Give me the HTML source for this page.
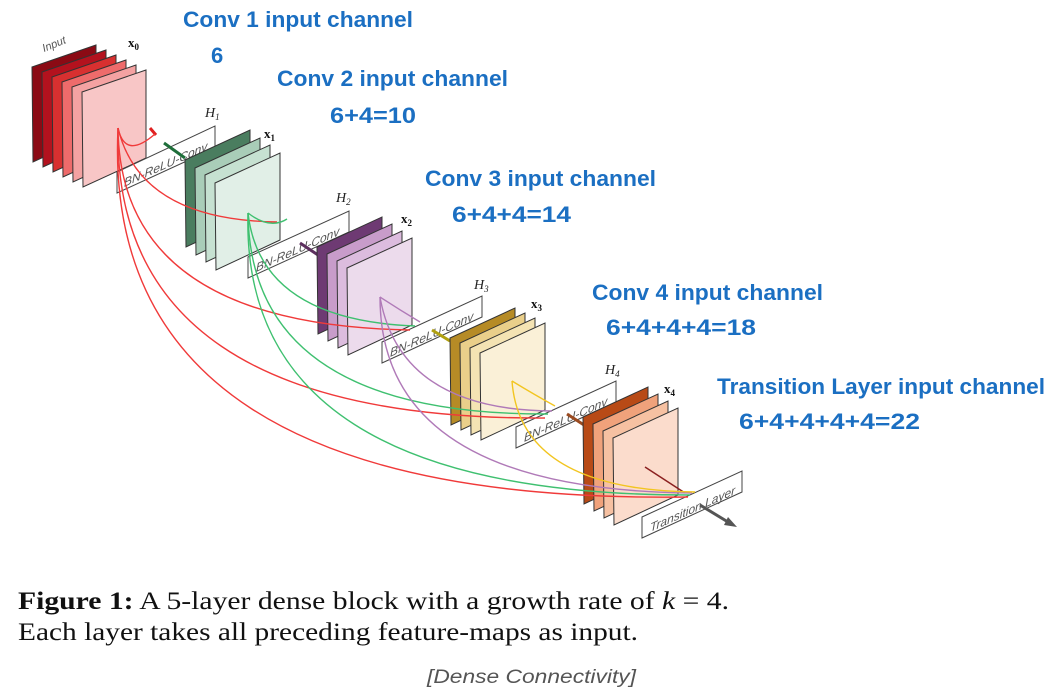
<!DOCTYPE html>
<html><head><meta charset="utf-8"><style>
html,body{margin:0;padding:0;background:#fff;}
svg{display:block;}
.b{font-family:"Liberation Sans",sans-serif;font-weight:bold;font-size:22px;fill:#1b6fc2;}
.n{letter-spacing:2.5px;}
.box{fill:#fff;stroke:#444;stroke-width:1;}
.bt{font-family:"Liberation Sans",sans-serif;font-style:italic;font-size:12px;fill:#555;}
.h{font-family:"Liberation Serif",serif;font-style:italic;font-size:14px;fill:#222;}
.x{font-family:"Liberation Serif",serif;font-weight:bold;font-size:13px;fill:#111;}
.pl{stroke:#333;stroke-width:1;}
.c{fill:none;stroke-width:1.4;}
</style></head><body>
<svg width="1054" height="689" viewBox="0 0 1054 689" xmlns="http://www.w3.org/2000/svg">
<defs>
<polygon id="p0" points="0,0 64,-22 64,66 1,95"/>
<polygon id="p" points="0,0 65,-30 65,57 1,87"/>
</defs>
<text x="44" y="52" class="bt" transform="rotate(-22 44 52)" style="font-size:11px">Input</text>
<text x="128" y="47" class="x">x<tspan font-size="9" dy="3">0</tspan></text>
<use href="#p0" x="32" y="67" class="pl" fill="#8b0a14"/>
<use href="#p0" x="42" y="72" class="pl" fill="#b3121e"/>
<use href="#p0" x="52" y="77" class="pl" fill="#d83030"/>
<use href="#p0" x="62" y="82" class="pl" fill="#ee6b6b"/>
<use href="#p0" x="72" y="87" class="pl" fill="#f4a2a2"/>
<use href="#p0" x="82" y="92" class="pl" fill="#f8c6c6"/>
<polygon class="box" points="117,193 215,148 215,126 117,172"/>
<text class="bt" transform="translate(124,187) skewY(-24)">BN-ReLU-Conv</text>
<text x="205" y="117" class="h">H<tspan font-size="9" dy="3">1</tspan></text>
<line x1="150" y1="128" x2="156" y2="135" stroke="#e02020" stroke-width="3"/>
<line x1="164" y1="143" x2="185" y2="158" stroke="#1e6e3a" stroke-width="3"/>
<text x="264" y="138" class="x">x<tspan font-size="9" dy="3">1</tspan></text>
<use href="#p" x="185" y="160" class="pl" fill="#4a7d5f"/>
<use href="#p" x="195" y="168" class="pl" fill="#a9cdb8"/>
<use href="#p" x="205" y="175" class="pl" fill="#c6e1d1"/>
<use href="#p" x="215" y="183" class="pl" fill="#e1efe7"/>
<polygon class="box" points="248,278 349,232 349,211 248,257"/>
<text class="bt" transform="translate(256,272) skewY(-24)">BN-ReLU-Conv</text>
<text x="336" y="202" class="h">H<tspan font-size="9" dy="3">2</tspan></text>
<line x1="300" y1="243" x2="318" y2="255" stroke="#5c2f5e" stroke-width="3"/>
<text x="401" y="223" class="x">x<tspan font-size="9" dy="3">2</tspan></text>
<use href="#p" x="317" y="247" class="pl" fill="#6e3a73"/>
<use href="#p" x="327" y="254" class="pl" fill="#c89cca"/>
<use href="#p" x="337" y="261" class="pl" fill="#dcbcde"/>
<use href="#p" x="347" y="268" class="pl" fill="#ecdbec"/>
<polygon class="box" points="382,363 482,317 482,296 382,342"/>
<text class="bt" transform="translate(390,357) skewY(-24)">BN-ReLU-Conv</text>
<text x="474" y="289" class="h">H<tspan font-size="9" dy="3">3</tspan></text>
<line x1="432" y1="330" x2="450" y2="341" stroke="#b0a010" stroke-width="3"/>
<text x="531" y="308" class="x">x<tspan font-size="9" dy="3">3</tspan></text>
<use href="#p" x="450" y="338" class="pl" fill="#b68b26"/>
<use href="#p" x="460" y="343" class="pl" fill="#eacf8a"/>
<use href="#p" x="470" y="348" class="pl" fill="#f4e3b3"/>
<use href="#p" x="480" y="353" class="pl" fill="#faf0d7"/>
<polygon class="box" points="516,448 616,402 616,381 516,427"/>
<text class="bt" transform="translate(524,442) skewY(-24)">BN-ReLU-Conv</text>
<text x="605" y="374" class="h">H<tspan font-size="9" dy="3">4</tspan></text>
<line x1="567" y1="414" x2="584" y2="425" stroke="#9a4a20" stroke-width="3"/>
<text x="664" y="393" class="x">x<tspan font-size="9" dy="3">4</tspan></text>
<use href="#p" x="583" y="417" class="pl" fill="#b84a16"/>
<use href="#p" x="593" y="424" class="pl" fill="#f0a27b"/>
<use href="#p" x="603" y="431" class="pl" fill="#f6c1a2"/>
<use href="#p" x="613" y="438" class="pl" fill="#fbdccc"/>
<polygon class="box" points="642,538 742,492 742,471 642,517"/>
<text class="bt" transform="translate(650,532) skewY(-24)">Transition Layer</text>
<line x1="700" y1="505" x2="728" y2="522" stroke="#555" stroke-width="3"/>
<polygon points="728,517 737,527 724,525" fill="#555"/>
<line x1="645" y1="467" x2="685" y2="493" stroke="#8b2020" stroke-width="1.5"/>
<path class="c" stroke="#f03a3a" d="M118,128 Q125,160 155,134"/>
<path class="c" stroke="#f03a3a" d="M118,128 Q140,220 277,222"/>
<path class="c" stroke="#f03a3a" d="M118,128 Q120,325 410,330"/>
<path class="c" stroke="#f03a3a" d="M118,128 Q112,420 545,418"/>
<path class="c" stroke="#f03a3a" d="M118,128 Q100,505 688,497"/>
<path class="c" stroke="#3fc070" d="M248,213 Q270,230 287,219"/>
<path class="c" stroke="#3fc070" d="M248,213 Q260,320 415,326"/>
<path class="c" stroke="#3fc070" d="M248,213 Q250,415 548,414"/>
<path class="c" stroke="#3fc070" d="M248,213 Q240,495 690,495"/>
<path class="c" stroke="#b07ab8" d="M380,297 Q400,310 420,322"/>
<path class="c" stroke="#b07ab8" d="M380,297 Q400,410 552,411"/>
<path class="c" stroke="#b07ab8" d="M380,297 Q380,490 692,493"/>
<path class="c" stroke="#f2c520" d="M512,381 Q535,395 555,406"/>
<path class="c" stroke="#f2c520" d="M512,381 Q520,490 695,492"/>
<text x="183" y="27" class="b" textLength="230" lengthAdjust="spacingAndGlyphs">Conv 1 input channel</text>
<text x="211" y="63" class="b">6</text>
<text x="277" y="86" class="b" textLength="231" lengthAdjust="spacingAndGlyphs">Conv 2 input channel</text>
<text x="330" y="123" class="b" textLength="86" lengthAdjust="spacingAndGlyphs">6+4=10</text>
<text x="425" y="186" class="b" textLength="231" lengthAdjust="spacingAndGlyphs">Conv 3 input channel</text>
<text x="452" y="222" class="b" textLength="119" lengthAdjust="spacingAndGlyphs">6+4+4=14</text>
<text x="592" y="300" class="b" textLength="231" lengthAdjust="spacingAndGlyphs">Conv 4 input channel</text>
<text x="606" y="335" class="b" textLength="150" lengthAdjust="spacingAndGlyphs">6+4+4+4=18</text>
<text x="717" y="394" class="b" textLength="328" lengthAdjust="spacingAndGlyphs">Transition Layer input channel</text>
<text x="739" y="429" class="b" textLength="181" lengthAdjust="spacingAndGlyphs">6+4+4+4+4=22</text>
<text x="18" y="609" font-family="Liberation Serif,serif" font-size="25" fill="#111" textLength="711" lengthAdjust="spacingAndGlyphs"><tspan font-weight="bold">Figure 1:</tspan> A 5-layer dense block with a growth rate of <tspan font-style="italic">k</tspan> = 4.</text>
<text x="18" y="640" font-family="Liberation Serif,serif" font-size="25" fill="#111" textLength="620" lengthAdjust="spacingAndGlyphs">Each layer takes all preceding feature-maps as input.</text>
<text x="427" y="683" font-family="Liberation Sans,sans-serif" font-style="italic" font-size="19" fill="#555" textLength="209" lengthAdjust="spacingAndGlyphs">[Dense Connectivity]</text>
</svg>
</body></html>
